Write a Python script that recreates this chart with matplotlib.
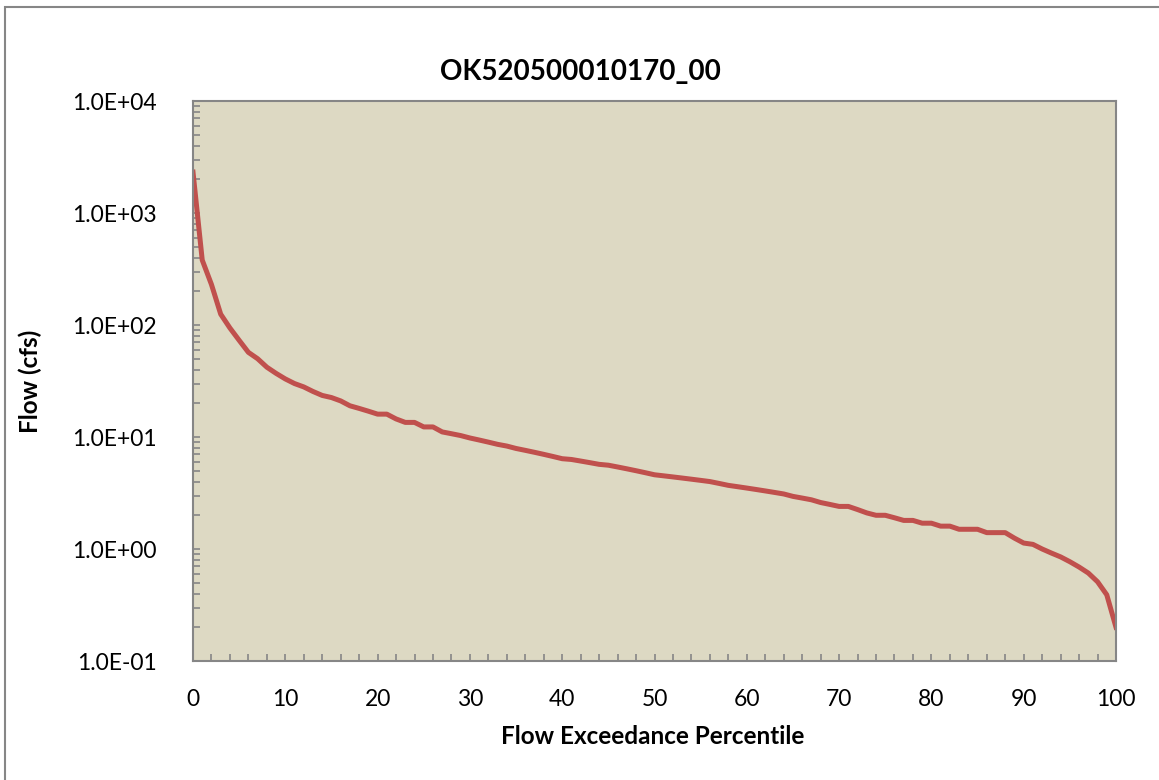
import matplotlib.pyplot as plt
from matplotlib.patches import Rectangle
from matplotlib.ticker import FuncFormatter, LogLocator, MultipleLocator

title = "OK520500010170_00"
x_label = "Flow Exceedance Percentile"
y_label = "Flow (cfs)"

percentile = list(range(0, 101))
flow = [
    2320, 380, 230, 125, 94, 73, 57, 50, 42, 37,
    33, 30, 28, 25.5, 23.5, 22.5, 21, 19, 18, 17,
    16, 16, 14.5, 13.5, 13.5, 12.3, 12.3, 11.1, 10.7, 10.3,
    9.8, 9.4, 9.0, 8.6, 8.3, 7.9, 7.6, 7.3, 7.0, 6.7,
    6.4, 6.3, 6.1, 5.9, 5.7, 5.6, 5.4, 5.2, 5.0, 4.8,
    4.6, 4.5, 4.4, 4.3, 4.2, 4.1, 4.0, 3.85, 3.7, 3.6,
    3.5, 3.4, 3.3, 3.2, 3.1, 2.95, 2.85, 2.75, 2.6, 2.5,
    2.4, 2.4, 2.25, 2.1, 2.0, 2.0, 1.9, 1.8, 1.8, 1.7,
    1.7, 1.6, 1.6, 1.5, 1.5, 1.5, 1.4, 1.4, 1.4, 1.25,
    1.13, 1.1, 1.0, 0.92, 0.85, 0.77, 0.69, 0.61, 0.51, 0.39,
    0.2,
]

plt.rcParams["font.family"] = ["Lato", "DejaVu Sans"]

W, H = 1159, 780
fig = plt.figure(figsize=(W / 100, H / 100), dpi=100)
ax = fig.add_axes([193 / W, 1 - 661 / H, (1116 - 193) / W, (661 - 101) / H])

# outer chart frame (only left and top visible in the crop)
fig.patches.append(Rectangle((5 / W, -0.1), 1.2, 1 - 7 / H + 0.1,
                             transform=fig.transFigure, fill=False,
                             edgecolor="#868686", linewidth=1.5))

ax.set_facecolor("#DDD9C3")
ax.plot(percentile, flow, color="#C0504D", linewidth=3.6, solid_joinstyle="round")

ax.set_yscale("log")
ax.set_ylim(0.1, 10000)
ax.set_xlim(0, 100)

ax.xaxis.set_major_locator(MultipleLocator(10))
ax.xaxis.set_minor_locator(MultipleLocator(2))
ax.yaxis.set_major_locator(LogLocator(base=10, numticks=10))
ax.yaxis.set_minor_locator(LogLocator(base=10, subs=range(2, 10), numticks=10))
ax.yaxis.set_major_formatter(FuncFormatter(lambda v, _: f"{v:.1E}"))

ax.tick_params(which="both", direction="in", color="#868686", width=1.2, length=5,
               top=False, right=False)
ax.tick_params(axis="x", which="major", labelsize=16.5, pad=20)
ax.tick_params(axis="y", which="major", labelsize=16.5, pad=26)

for spine in ax.spines.values():
    spine.set_color("#868686")
    spine.set_linewidth(1.5)

fig.text(580 / W, 1 - 72 / H, title, fontsize=20, fontweight="bold",
         ha="center", va="center")
fig.text(500 / W + (806 - 500) / 2 / W, 1 - 737 / H, x_label, fontsize=17.5,
         fontweight="bold", ha="center", va="center")
fig.text(30 / W, 1 - 381 / H, y_label, fontsize=17.5, fontweight="bold",
         ha="center", va="center", rotation=90)

fig.savefig("out.png", dpi=100)
